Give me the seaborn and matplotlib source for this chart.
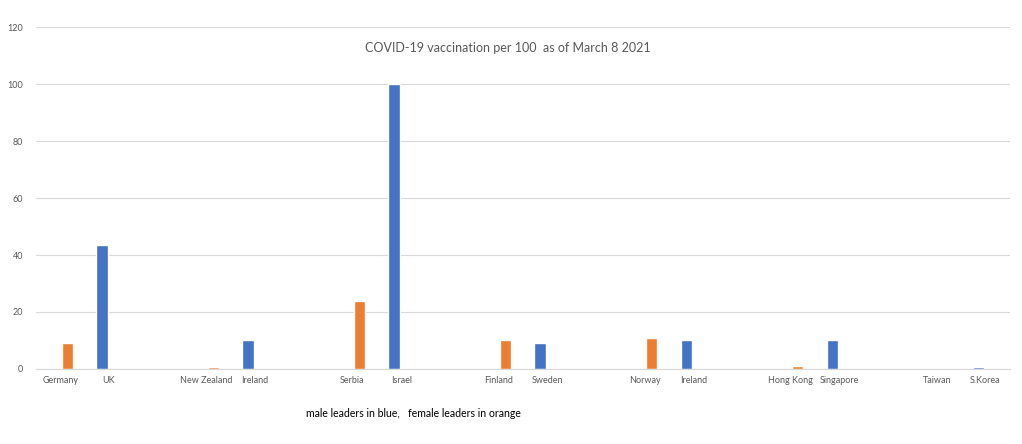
import pandas as pd
import matplotlib.pyplot as plt
import seaborn as sns

# categories (blank slots are the gaps between pairs)
labels = ["Germany", "UK", "", "New Zealand", "Ireland", "", "Serbia", "Israel", "",
          "Finland", "Sweden", "", "Norway", "Ireland", "", "Hong Kong", "Singapore", "",
          "Taiwan", "S.Korea"]
leader = ["female", "male", None, "female", "male", None, "female", "male", None,
          "female", "male", None, "female", "male", None, "female", "male", None,
          "female", "male"]
values = [9, 43.5, None, 0.7, 10, None, 24, 100, None,
          10, 9, None, 11, 10, None, 1, 10, None,
          0, 0.6]

rows = [(str(i), g, v) for i, (g, v) in enumerate(zip(leader, values)) if g is not None]
df = pd.DataFrame(rows, columns=["slot", "leader", "value"])

sns.set_style("white")
plt.rcParams['font.family'] = ['Lato', 'DejaVu Sans']

fig = plt.figure(figsize=(10.22, 4.44), dpi=100)
ax = fig.add_axes([0.0352, 0.169, 0.9528, 0.770])

sns.barplot(data=df, x="slot", y="value", hue="leader",
            order=[str(i) for i in range(len(labels))],
            hue_order=["male", "female"],
            palette={"male": "#4472C4", "female": "#ED7D31"},
            saturation=1, dodge=True,
            width=0.58, gap=0.2, legend=False, ax=ax)

ax.set_xlim(-0.5, len(labels) - 0.5)
ax.set_ylim(0, 120)
ax.set_yticks(range(0, 121, 20))
ax.yaxis.grid(True, color="#D9D9D9", linewidth=0.8)
ax.set_axisbelow(True)
ax.set_xticks(range(len(labels)))
ax.set_xticklabels(labels, fontsize=6.5, color="#595959")
ax.tick_params(axis="y", labelsize=6.5, labelcolor="#595959", length=0, pad=9)
ax.tick_params(axis="x", length=0, pad=5)
ax.set_xlabel("")
ax.set_ylabel("")
for s in ["top", "right", "left"]:
    ax.spines[s].set_visible(False)
ax.spines["bottom"].set_color("#D9D9D9")
ax.spines["bottom"].set_linewidth(0.8)

fig.text(0.497, 0.893, "COVID-19 vaccination per 100  as of March 8 2021",
         ha="center", va="center", fontsize=9, color="#595959")
fig.text(0.299, 0.069, "male leaders in blue,   female leaders in orange",
         ha="left", va="center", fontsize=7.6, color="black")

fig.savefig("out.png", dpi=100)
